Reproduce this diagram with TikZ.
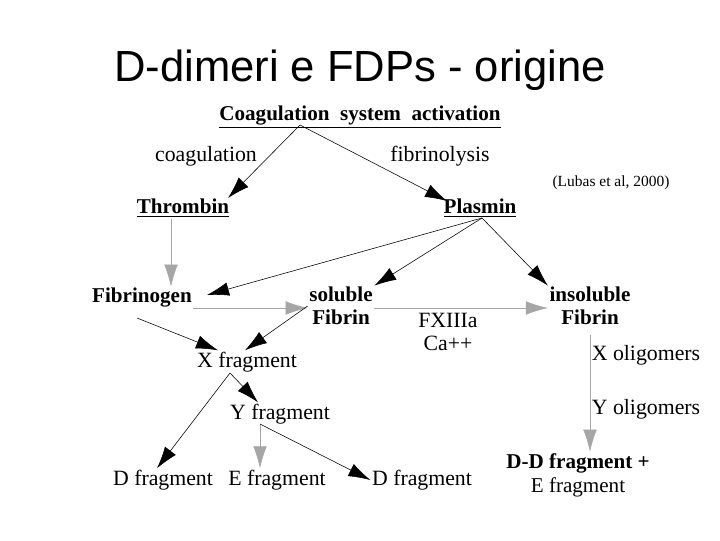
\documentclass[tikz,border=0pt]{standalone}
\usepackage{fontspec}
\setmainfont{Liberation Serif}
\newfontfamily\titlefont{Liberation Sans}
\usetikzlibrary{arrows.meta,positioning}
\tikzset{
  lbl/.style={font=\fontsize{15.5}{16}\selectfont, inner sep=1pt, align=center},
  key/.style={lbl, font=\fontsize{15}{16}\selectfont\bfseries},
  arr/.style={-{Latex[length=5.5mm,width=3.4mm]}, black, thin},
  garr/.style={arr, gray!70},
}
\begin{document}
\begin{tikzpicture}[x=0.025cm,y=-0.025cm]
    \useasboundingbox (0,0) rectangle (720,540);

        \node[font=\titlefont\fontsize{31}{34}\selectfont] (title) at (360,70) {D-dimeri e FDPs - origine};
        \node[key] (Act) at (360,117) {\underline{Coagulation\ \ system\ \ activation}};
        \node[lbl] (coag) at (206,156) {coagulation};
        \node[lbl] (fibr) at (440,156) {fibrinolysis};
        \node[lbl, font=\fontsize{11}{12}\selectfont] (ref) at (611,183) {(Lubas et al, 2000)};
        \node[key] (Thr) at (183,208) {\underline{Thrombin}};
        \node[key] (Pla) at (480,208) {\underline{Plasmin}};
        \node[key] (Fbg) at (142,298) {Fibrinogen};
        \node[key] (Sol) at (341,306) {soluble\\Fibrin};
        \node[key] (Ins) at (590,306) {insoluble\\Fibrin};
        \node[lbl] (fx) at (448,332) {FXIIIa\\Ca++};
        \node[lbl] (Xf) at (247,362) {X fragment};
        \node[lbl] (Yf) at (280,414) {Y fragment};
        \node[lbl] (D1) at (163,480) {D fragment};
        \node[lbl] (Ef) at (277,480) {E fragment};
        \node[lbl] (D2) at (422,480) {D fragment};
        \node[lbl] (xo) at (646,355) {X oligomers};
        \node[lbl] (yo) at (646,409) {Y oligomers};
        \node[lbl, font=\fontsize{15}{17}\selectfont] (DD) at (578,475) {\textbf{D-D fragment +}\\E fragment};

        \coordinate (apex) at (300,125);
        \coordinate (plx) at (482,218);
        \coordinate (xx) at (230,373);
        \coordinate (yy) at (260,424);

        % activation
        \draw[arr] (apex) -- (228,198) coordinate (thrin);
        \draw[arr] (apex) -- (447,201) coordinate (plain);

        % plasmin
        \draw[arr] (plx) -- (207,295);
        \draw[arr] (plx) -- (Sol.north east);
        \draw[arr] (plx) -- (Ins.north west);

        \draw[garr] (Thr.south -| 171,0) -- (Fbg.north -| 171,0);
        \draw[garr] (Fbg.east |- 0,308) -- (Sol.west |- 0,308);
        \draw[garr] (Sol.east |- 0,308) -- (Ins.west |- 0,308);

        \draw[arr] (137,318) -- (Xf.north west -| 218,0);
        \draw[arr] (Sol.west) -- (Xf.north -| 245,0);

        % fragments
        \draw[arr] (xx) -- (D1.north west -| 157,0);
        \draw[arr] (xx) -- (Yf.north -| 258,0);
        \draw[garr] (yy) -- (Ef.north -| 260,0);
        \draw[arr] (yy) -- (D2.west);
        \draw[garr] (Ins.south |- 0,335) -- (DD.north -| 590,0);
\end{tikzpicture}
\end{document}
